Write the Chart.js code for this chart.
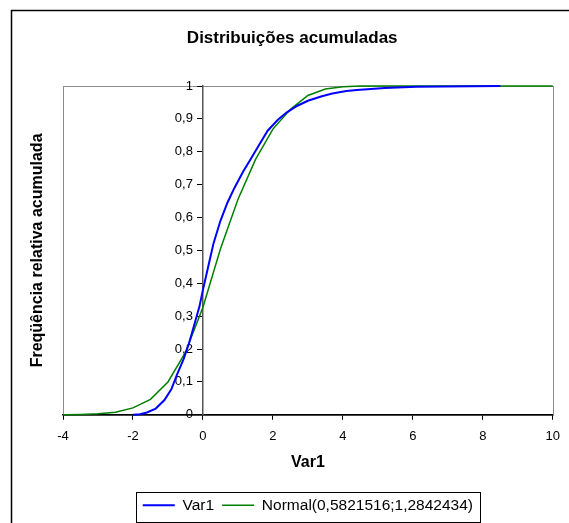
<!DOCTYPE html>
<html>
<head>
<meta charset="utf-8">
<script src="https://cdn.jsdelivr.net/npm/chart.js@4/dist/chart.umd.min.js"></script>
<style>
  html, body { margin: 0; padding: 0; background: #fff; }
  #wrap { width: 569px; height: 523px; }
</style>
</head>
<body>
<div id="wrap"><canvas id="cdfChart"></canvas></div>
<script>
// ── Dados ────────────────────────────────────────────────────────────────────
const chartTitle = 'Distribuições acumuladas';
const xTitle = 'Var1';
const yTitle = 'Freqüência relativa acumulada';
const seriesNames = ['Var1', 'Normal(0,5821516;1,2842434)'];

// Var1: frequência acumulada empírica
const varX = [-2.0, -1.8, -1.6, -1.35, -1.1, -0.9, -0.75, -0.55, -0.4, -0.25, -0.1, 0, 0.15, 0.3, 0.5, 0.7, 0.9, 1.15, 1.35, 1.6, 1.85, 2.15, 2.4, 2.7, 3.0, 3.4, 3.7, 4.1, 4.4, 5.2, 6.1, 8.5];
const varY = [0, 0.002, 0.007, 0.019, 0.045, 0.078, 0.12, 0.17, 0.217, 0.273, 0.329, 0.38, 0.45, 0.52, 0.59, 0.645, 0.69, 0.74, 0.775, 0.82, 0.864, 0.898, 0.92, 0.94, 0.955, 0.969, 0.977, 0.985, 0.988, 0.994, 0.998, 1];

// Normal ajustada
const normalX = [-4, -3.5, -3, -2.5, -2, -1.5, -1, -0.5, 0, 0.5, 1, 1.5, 2, 2.5, 3, 3.5, 4, 4.5, 5, 6, 7, 8, 9, 10];
const normalY = [0, 0.001, 0.003, 0.008, 0.021, 0.047, 0.1, 0.19, 0.327, 0.504, 0.655, 0.776, 0.869, 0.929, 0.971, 0.991, 0.998, 1, 1, 1, 1, 1, 1, 1];

const xTickLabels = ['-4', '-2', '0', '2', '4', '6', '8', '10'];
const yTickLabels = ['0', '0,1', '0,2', '0,3', '0,4', '0,5', '0,6', '0,7', '0,8', '0,9', '1'];

// ── Helpers ──────────────────────────────────────────────────────────────────
function toPoints(xs, ys) {
    return xs.map((x, i) => ({ x: x, y: ys[i] }));
}

const FONT = '"Liberation Sans", Arial, sans-serif';
Chart.defaults.font.family = FONT;
Chart.defaults.color = '#000';

// moldura externa, borda cinza da área de plotagem e caixa da legenda
const framePlugin = {
    id: 'frame',
    beforeDraw(chart) {
        const ctx = chart.ctx;
        const a = chart.chartArea;
        ctx.save();
        ctx.strokeStyle = '#000';
        ctx.lineWidth = 1.5;
        ctx.strokeRect(11.5, 10.5, 700, 700);
        ctx.strokeStyle = '#8c8c8c';
        ctx.lineWidth = 1;
        ctx.strokeRect(Math.round(a.left) + 0.5, Math.round(a.top) + 0.5,
            Math.round(a.right - a.left), Math.round(a.bottom - a.top));
        ctx.restore();

        // rótulos do eixo y (posicionado em x = 0) ficam à esquerda do eixo
        const ys = chart.scales.y;
        const items = ys.getLabelItems(chart.chartArea);
        items.forEach(it => {
            if (!it._shifted && it.options && it.options.translation) {
                it.options.translation[0] -= 10;
                it._shifted = true;
            }
        });
    },
    afterDraw(chart) {
        const boxes = chart.legend.legendHitBoxes;
        if (!boxes || !boxes.length) return;
        const first = boxes[0];
        const last = boxes[boxes.length - 1];
        const ctx = chart.ctx;
        ctx.save();
        ctx.strokeStyle = '#000';
        ctx.lineWidth = 1;
        const x1 = Math.round(first.left - 7) + 0.5;
        const x2 = Math.round(last.left + last.width + 7) + 0.5;
        const y1 = Math.round(first.top + first.height / 2 - 13) + 0.5;
        ctx.strokeRect(x1, y1, x2 - x1, 30);
        ctx.restore();
    }
};

// ── Gráfico ──────────────────────────────────────────────────────────────────
new Chart(document.getElementById('cdfChart'), {
    type: 'scatter',
    data: {
        datasets: [
            {
                label: seriesNames[0],
                data: toPoints(varX, varY),
                showLine: true,
                borderColor: '#0000ff',
                backgroundColor: '#0000ff',
                borderWidth: 2,
                pointRadius: 0,
                tension: 0,
                clip: 4
            },
            {
                label: seriesNames[1],
                data: toPoints(normalX, normalY),
                showLine: true,
                borderColor: '#008000',
                backgroundColor: '#008000',
                borderWidth: 1.5,
                pointRadius: 0,
                tension: 0,
                clip: 4
            }
        ]
    },
    options: {
        responsive: true,
        maintainAspectRatio: false,
        animation: false,
        layout: { padding: { left: 24.4, right: 9, top: 0, bottom: 0 } },
        plugins: {
            title: {
                display: true,
                text: chartTitle,
                font: { size: 17, weight: 'bold' },
                padding: { top: 28, bottom: 37.6 }
            },
            legend: {
                position: 'bottom',
                fullSize: false,
                labels: {
                    usePointStyle: true,
                    pointStyle: 'line',
                    pointStyleWidth: 32,
                    boxHeight: 15,
                    padding: 8,
                    font: { size: 15.5 },
                    color: '#000'
                }
            },
            tooltip: { enabled: false }
        },
        scales: {
            x: {
                type: 'linear',
                min: -4,
                max: 10,
                ticks: {
                    stepSize: 2,
                    padding: 9,
                    font: { size: 13 },
                    color: '#000',
                    callback: (v, i) => xTickLabels[i]
                },
                grid: { drawOnChartArea: false, color: '#000', tickLength: 5 },
                border: { color: '#000', width: 1.5 },
                title: {
                    display: true,
                    text: xTitle,
                    font: { size: 16, weight: 'bold' },
                    padding: { top: 0, bottom: 16.9 }
                }
            },
            y: {
                type: 'linear',
                position: { x: 0 },
                min: 0,
                max: 1,
                ticks: {
                    stepSize: 0.1,
                    padding: 5,
                    font: { size: 13 },
                    color: '#000',
                    callback: (v, i) => yTickLabels[i]
                },
                grid: { drawOnChartArea: false, color: '#000', tickLength: 5 },
                border: { color: '#555', width: 1.5 }
            },
            // eixo só para o título vertical
            y2: {
                type: 'linear',
                position: 'left',
                min: 0,
                max: 1,
                ticks: { display: false },
                grid: { display: false },
                border: { display: false },
                title: {
                    display: true,
                    text: yTitle,
                    font: { size: 16, weight: 'bold' },
                    padding: { top: 4, bottom: 7.4 }
                }
            }
        }
    },
    plugins: [framePlugin]
});
</script>
</body>
</html>
